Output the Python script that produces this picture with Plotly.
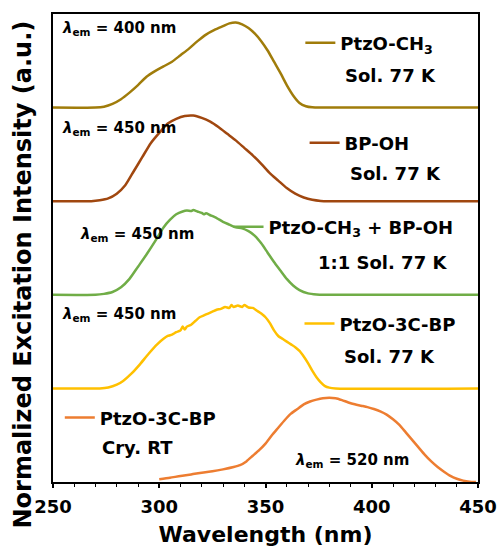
import plotly.graph_objects as go

# ---------------- data ----------------
names = ["PtzO-CH<sub>3</sub>", "BP-OH", "PtzO-CH<sub>3</sub> + BP-OH", "PtzO-3C-BP", "PtzO-3C-BP"]
second_lines = ["Sol. 77 K", "Sol. 77 K", "1:1 Sol. 77 K", "Sol. 77 K", "Cry. RT"]
em_labels = ["400 nm", "450 nm", "450 nm", "450 nm", "520 nm"]
colors = ["#A07C0A", "#A0470F", "#70AD47", "#FFC000", "#ED7D31"]
offsets = [4, 3, 2, 1, 0]

x1 = [250, 270, 274, 278, 282, 286, 290, 294, 298, 302, 306, 310, 314, 318, 322, 326, 330, 333, 336,
      339, 342, 345, 348, 351, 354, 357, 360, 363, 366, 369, 372, 376, 450]
y1 = [0, 0, 0.01, 0.04, 0.09, 0.16, 0.24, 0.33, 0.39, 0.44, 0.49, 0.56, 0.63, 0.71, 0.78, 0.83, 0.87, 0.90, 0.91,
      0.89, 0.85, 0.79, 0.71, 0.61, 0.49, 0.37, 0.24, 0.13, 0.05, 0.015, 0.003, 0, 0]

x2 = [250, 268, 272, 276, 280, 284, 288, 292, 296, 300, 304, 308, 312, 316, 320, 324, 328, 332, 336, 340,
      344, 348, 352, 356, 360, 364, 368, 372, 376, 380, 450]
y2 = [0, 0, 0.01, 0.03, 0.08, 0.17, 0.32, 0.47, 0.62, 0.73, 0.83, 0.88, 0.91, 0.915, 0.89, 0.85, 0.79, 0.72,
      0.65, 0.57, 0.49, 0.40, 0.30, 0.22, 0.14, 0.08, 0.04, 0.015, 0.003, 0, 0]

x3 = [250, 270, 274, 278, 282, 286, 290, 294, 298, 302, 305, 308, 311, 313, 315, 316, 318, 320, 321, 322,
      324, 327, 330, 333, 336, 339, 342, 345, 348, 351, 354, 357, 360, 363, 366, 370, 374, 378, 450]
y3 = [0, 0, 0.01, 0.03, 0.08, 0.17, 0.30, 0.43, 0.57, 0.72, 0.80, 0.86, 0.89, 0.90, 0.895, 0.905, 0.89, 0.875,
      0.86, 0.87, 0.85, 0.82, 0.78, 0.75, 0.72, 0.71, 0.68, 0.63, 0.55, 0.45, 0.35, 0.26, 0.17, 0.10, 0.05,
      0.015, 0.003, 0, 0]

x4 = [250, 272, 276, 280, 283, 287, 291, 295, 299, 302, 304, 306, 308, 310, 311, 312, 313, 315, 317, 319,
      321, 323, 325, 327, 329, 331, 333, 334, 335, 337, 339, 340, 342, 344, 346, 348, 350, 352, 354, 356,
      358, 360, 362, 364, 366, 368, 370, 372, 374, 376, 378, 380, 383, 450]
y4 = [0, 0, 0.01, 0.04, 0.08, 0.16, 0.26, 0.37, 0.47, 0.53, 0.56, 0.575, 0.60, 0.62, 0.66, 0.63, 0.66, 0.68,
      0.72, 0.76, 0.78, 0.80, 0.82, 0.84, 0.85, 0.87, 0.86, 0.89, 0.87, 0.885, 0.87, 0.89, 0.865, 0.86, 0.83,
      0.80, 0.76, 0.70, 0.62, 0.56, 0.53, 0.50, 0.47, 0.44, 0.40, 0.34, 0.27, 0.19, 0.12, 0.065, 0.025,
      0.008, 0, 0]

x5 = [300, 305, 310, 315, 320, 325, 330, 335, 338, 341, 344, 347, 350, 353, 356, 359, 362, 365, 368, 371,
      374, 377, 380, 383, 386, 389, 392, 395, 398, 401, 404, 407, 410, 413, 416, 419, 422, 425, 428, 431,
      434, 437, 440, 443, 446, 449]
y5 = [0.03, 0.045, 0.065, 0.08, 0.10, 0.115, 0.135, 0.16, 0.18, 0.22, 0.28, 0.34, 0.41, 0.50, 0.58, 0.66,
      0.73, 0.78, 0.83, 0.86, 0.88, 0.895, 0.90, 0.895, 0.875, 0.85, 0.83, 0.815, 0.80, 0.78, 0.755, 0.72,
      0.67, 0.61, 0.53, 0.45, 0.37, 0.29, 0.22, 0.16, 0.11, 0.065, 0.035, 0.015, 0.004, 0]

xs = [x1, x2, x3, x4, x5]
ys = [y1, y2, y3, y4, y5]

xticks = [250, 300, 350, 400, 450]

# ---------------- layout placement (paper coords) ----------------
legend_pos = [(0.582, 0.938), (0.592, 0.724), (0.413, 0.545), (0.580, 0.338), (0.016, 0.137)]
second_pos = [(0.683, 0.868), (0.695, 0.660), (0.619, 0.470), (0.680, 0.269), (0.111, 0.073)]
em_pos = [(0.017, 0.968), (0.017, 0.756), (0.059, 0.528), (0.017, 0.357), (0.565, 0.047)]

FONT = "DejaVu Sans"

fig = go.Figure()
for i in range(5):
    lg = "legend" if i == 0 else f"legend{i + 1}"
    fig.add_trace(go.Scatter(
        x=xs[i], y=[v + offsets[i] for v in ys[i]],
        mode="lines", name=names[i], legend=lg,
        line=dict(color=colors[i], width=2.5, shape="spline", smoothing=0.6),
    ))

layout_legends = {}
for i in range(5):
    key = "legend" if i == 0 else f"legend{i + 1}"
    layout_legends[key] = dict(
        x=legend_pos[i][0], y=legend_pos[i][1], xanchor="left", yanchor="middle",
        bgcolor="rgba(0,0,0,0)", borderwidth=0,
        font=dict(family=FONT, size=18, color="black", weight="bold"),
    )

annotations = []
for i in range(5):
    annotations.append(dict(
        text=second_lines[i], x=second_pos[i][0], y=second_pos[i][1], xref="paper", yref="paper",
        xanchor="left", yanchor="middle", showarrow=False,
        font=dict(family=FONT, size=18, color="black", weight="bold"),
    ))
    annotations.append(dict(
        text="<i>λ</i><sub>em</sub> = " + em_labels[i], x=em_pos[i][0], y=em_pos[i][1],
        xref="paper", yref="paper", xanchor="left", yanchor="middle", showarrow=False,
        font=dict(family=FONT, size=15, color="black", weight="bold"),
    ))

# y-axis title placed as a rotated annotation (it sits slightly below the plot centre)
annotations.append(dict(
    text="Normalized Excitation Intensity (a.u.)", textangle=-90,
    x=-0.071, y=0.443, xref="paper", yref="paper", xanchor="center", yanchor="middle",
    showarrow=False, font=dict(family=FONT, size=24, color="black", weight="bold"),
))

fig.update_layout(
    width=499, height=547,
    margin=dict(l=53, r=21, t=14, b=65, autoexpand=False),
    paper_bgcolor="white", plot_bgcolor="white",
    showlegend=True,
    annotations=annotations,
    **layout_legends,
    xaxis=dict(
        range=[250, 450], tickvals=xticks, ticktext=[str(t) for t in xticks],
        automargin=False,
        showline=True, linecolor="black", linewidth=2, mirror=True,
        ticks="outside", ticklen=4, tickwidth=1.5, tickcolor="black",
        minor=dict(dtick=10, tick0=250, ticks="outside", ticklen=3, tickwidth=1.2, tickcolor="black"),
        showgrid=False, zeroline=False, ticklabelstandoff=3,
        tickfont=dict(family=FONT, size=18, color="black", weight="bold"),
        title=dict(text="Wavelength (nm)", standoff=12,
                   font=dict(family=FONT, size=22, color="black", weight="bold")),
    ),
    yaxis=dict(
        range=[0, 5], showticklabels=False, ticks="", automargin=False,
        showline=True, linecolor="black", linewidth=2, mirror=True,
        showgrid=False, zeroline=False,
    ),
)

fig.write_html("out.html")
